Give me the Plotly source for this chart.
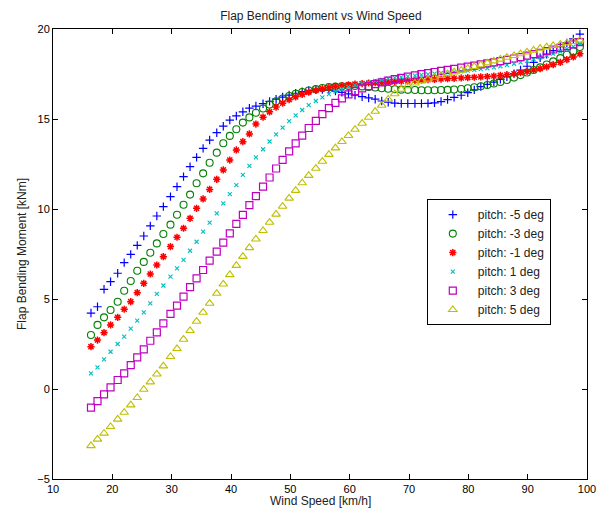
import plotly.graph_objects as go

# Wind speed grid [km/h]
wind_speed = [
    16.4, 17.5, 18.6, 19.7, 20.9, 22.0, 23.1, 24.2, 25.3, 26.4,
    27.5, 28.6, 29.8, 30.9, 32.0, 33.1, 34.2, 35.3, 36.4, 37.6,
    38.7, 39.8, 40.9, 42.0, 43.1, 44.2, 45.4, 46.5, 47.6, 48.7,
    49.8, 50.9, 52.0, 53.1, 54.3, 55.4, 56.5, 57.6, 58.7, 59.8,
    60.9, 62.1, 63.2, 64.3, 65.4, 66.5, 67.6, 68.7, 69.8, 71.0,
    72.1, 73.2, 74.3, 75.4, 76.5, 77.6, 78.8, 79.9, 81.0, 82.1,
    83.2, 84.3, 85.4, 86.5, 87.7, 88.8, 89.9, 91.0, 92.1, 93.2,
    94.3, 95.5, 96.6, 97.7, 98.8,
]

# Flap bending moment [kNm] for each blade pitch setting
moment_pitch_m5 = [
    4.22, 4.57, 5.54, 5.96, 6.43, 7.02, 7.48, 7.98, 8.50, 9.06,
    9.61, 10.13, 10.69, 11.24, 11.80, 12.35, 12.87, 13.37, 13.83, 14.24,
    14.60, 14.94, 15.17, 15.40, 15.60, 15.72, 15.85, 15.98, 16.10, 16.22,
    16.33, 16.43, 16.52, 16.58, 16.62, 16.63, 16.60, 16.55, 16.48, 16.40,
    16.32, 16.24, 16.17, 16.10, 16.00, 15.93, 15.88, 15.86, 15.86, 15.86,
    15.86, 15.87, 15.90, 15.97, 16.08, 16.20, 16.32, 16.46, 16.62, 16.80,
    16.92, 17.05, 17.20, 17.35, 17.52, 17.72, 17.93, 18.15, 18.40, 18.60,
    18.80, 19.02, 19.22, 19.45, 19.72,
]
moment_pitch_m3 = [
    3.00, 3.56, 3.98, 4.39, 4.85, 5.46, 6.00, 6.57, 7.06, 7.57,
    8.09, 8.61, 9.13, 9.68, 10.24, 10.80, 11.43, 11.98, 12.57, 13.13,
    13.65, 14.06, 14.43, 14.80, 15.09, 15.35, 15.58, 15.80, 15.98, 16.14,
    16.28, 16.40, 16.50, 16.58, 16.66, 16.72, 16.77, 16.80, 16.82, 16.83,
    16.83, 16.81, 16.78, 16.75, 16.71, 16.68, 16.65, 16.63, 16.62, 16.61,
    16.60, 16.60, 16.60, 16.61, 16.62, 16.64, 16.67, 16.71, 16.76, 16.82,
    16.89, 16.97, 17.06, 17.17, 17.30, 17.44, 17.58, 17.72, 17.87, 18.03,
    18.20, 18.38, 18.57, 18.77, 19.00,
]
moment_pitch_m1 = [
    2.35, 2.72, 3.13, 3.56, 3.98, 4.43, 4.85, 5.35, 5.87, 6.39,
    6.89, 7.35, 7.91, 8.43, 8.93, 9.48, 10.04, 10.56, 11.09, 11.65,
    12.17, 12.72, 13.28, 13.74, 14.17, 14.72, 15.10, 15.40, 15.66, 15.88,
    16.07, 16.23, 16.37, 16.49, 16.59, 16.68, 16.75, 16.81, 16.86, 16.90,
    16.94, 16.97, 17.00, 17.02, 17.04, 17.06, 17.08, 17.10, 17.12, 17.14,
    17.16, 17.18, 17.20, 17.22, 17.24, 17.26, 17.28, 17.30, 17.32, 17.34,
    17.36, 17.39, 17.42, 17.46, 17.51, 17.57, 17.64, 17.72, 17.80, 17.90,
    18.02, 18.15, 18.30, 18.45, 18.62,
]
moment_pitch_p1 = [
    0.87, 1.20, 1.65, 2.07, 2.50, 2.91, 3.35, 3.80, 4.26, 4.76,
    5.28, 5.75, 6.24, 6.70, 7.17, 7.68, 8.18, 8.74, 9.24, 9.76,
    10.31, 10.83, 11.33, 11.89, 12.39, 12.87, 13.32, 13.75, 14.15, 14.52,
    14.88, 15.20, 15.50, 15.77, 16.00, 16.20, 16.38, 16.53, 16.66, 16.78,
    16.88, 16.97, 17.05, 17.12, 17.18, 17.24, 17.29, 17.33, 17.37, 17.41,
    17.45, 17.48, 17.52, 17.55, 17.58, 17.62, 17.65, 17.69, 17.73, 17.77,
    17.82, 17.87, 17.93, 18.00, 18.07, 18.15, 18.23, 18.32, 18.42, 18.52,
    18.63, 18.75, 18.88, 19.02, 19.18,
]
moment_pitch_p3 = [
    -1.04, -0.67, -0.30, 0.09, 0.50, 0.87, 1.33, 1.76, 2.20, 2.68,
    3.15, 3.65, 4.17, 4.63, 5.13, 5.66, 6.15, 6.61, 7.13, 7.63,
    8.13, 8.65, 9.17, 9.67, 10.22, 10.72, 11.24, 11.75, 12.25, 12.73,
    13.20, 13.65, 14.08, 14.50, 14.90, 15.27, 15.60, 15.90, 16.15, 16.37,
    16.55, 16.70, 16.83, 16.94, 17.04, 17.13, 17.21, 17.28, 17.35, 17.42,
    17.49, 17.55, 17.61, 17.67, 17.73, 17.79, 17.85, 17.91, 17.97, 18.03,
    18.09, 18.15, 18.22, 18.29, 18.36, 18.44, 18.52, 18.60, 18.68, 18.77,
    18.86, 18.95, 19.05, 19.15, 19.27,
]
moment_pitch_p5 = [
    -3.15, -2.79, -2.46, -2.09, -1.68, -1.30, -0.89, -0.48, -0.02, 0.39,
    0.83, 1.28, 1.80, 2.24, 2.76, 3.24, 3.76, 4.26, 4.76, 5.31,
    5.83, 6.35, 6.86, 7.36, 7.85, 8.33, 8.80, 9.26, 9.71, 10.15,
    10.60, 11.03, 11.45, 11.86, 12.26, 12.65, 13.03, 13.39, 13.74, 14.08,
    14.42, 14.76, 15.09, 15.42, 15.76, 16.10, 16.40, 16.64, 16.84, 16.99,
    17.11, 17.21, 17.31, 17.41, 17.51, 17.61, 17.71, 17.81, 17.91, 18.01,
    18.11, 18.22, 18.32, 18.42, 18.52, 18.62, 18.72, 18.82, 18.92, 19.00,
    19.08, 19.15, 19.22, 19.30, 19.38,
]

series_names = ["pitch: -5 deg", "pitch: -3 deg", "pitch: -1 deg",
                "pitch: 1 deg", "pitch: 3 deg", "pitch: 5 deg"]
series_values = [moment_pitch_m5, moment_pitch_m3, moment_pitch_m1,
                 moment_pitch_p1, moment_pitch_p3, moment_pitch_p5]

x_ticks = [10, 20, 30, 40, 50, 60, 70, 80, 90, 100]
y_ticks = [-5, 0, 5, 10, 15, 20]

# Marker styling per series (classic colour order)
styles = [
    dict(symbol="cross-thin", color="#0000ff", size=6, width=1.2),
    dict(symbol="circle-open", color="#008000", size=7, width=1.1),
    dict(symbol="asterisk-open", color="#ff0000", size=6, width=1.5),
    dict(symbol="x-thin", color="#00bfbf", size=4, width=1.1),
    dict(symbol="square-open", color="#bf00bf", size=7, width=1.2),
    dict(symbol="triangle-up-open", color="#bfbf00", size=7.5, width=1.1),
]

fig = go.Figure()
for name, vals, st in zip(series_names, series_values, styles):
    fig.add_trace(go.Scatter(
        x=wind_speed, y=vals, mode="markers", name=name,
        marker=dict(symbol=st["symbol"], size=st["size"], color=st["color"],
                    line=dict(color=st["color"], width=st["width"])),
    ))

font_family = "Liberation Sans, Arial, sans-serif"
axis_common = dict(
    showgrid=False, zeroline=False, showline=True, linecolor="black",
    linewidth=1, mirror="ticks", ticks="inside", ticklen=5,
    tickcolor="black", automargin=False,
    tickfont=dict(size=11, color="black", family=font_family),
)

title_font = dict(size=12, color="#222222", family=font_family)

fig.update_layout(
    width=605, height=512,
    margin=dict(l=53, r=18, t=29, b=33, autoexpand=False),
    paper_bgcolor="white", plot_bgcolor="white",
    font=dict(family=font_family, size=11, color="black"),
    title=dict(text="Flap Bending Moment vs Wind Speed", x=0.5304,
               xanchor="center", y=1 - 16 / 512, yanchor="middle",
               yref="container", font=title_font, automargin=False),
    xaxis=dict(range=[10, 100], tickvals=x_ticks, **axis_common),
    yaxis=dict(range=[-5, 20], tickvals=y_ticks, **axis_common),
    showlegend=True,
    legend=dict(x=0.70, y=0.622, xanchor="left", yanchor="top",
                bgcolor="white", bordercolor="black", borderwidth=1,
                font=dict(size=12, color="#222222"), itemwidth=40,
                tracegroupgap=0),
    annotations=[
        dict(text="Wind Speed [km/h]", xref="paper", yref="paper",
             x=0.5, y=-22 / 450, xanchor="center", yanchor="middle",
             showarrow=False, font=title_font),
        dict(text="Flap Bending Moment [kNm]", xref="paper", yref="paper",
             x=-31 / 534, y=0.5, xanchor="center", yanchor="middle",
             textangle=-90, showarrow=False, font=title_font),
    ],
)

fig.write_html("out.html")
